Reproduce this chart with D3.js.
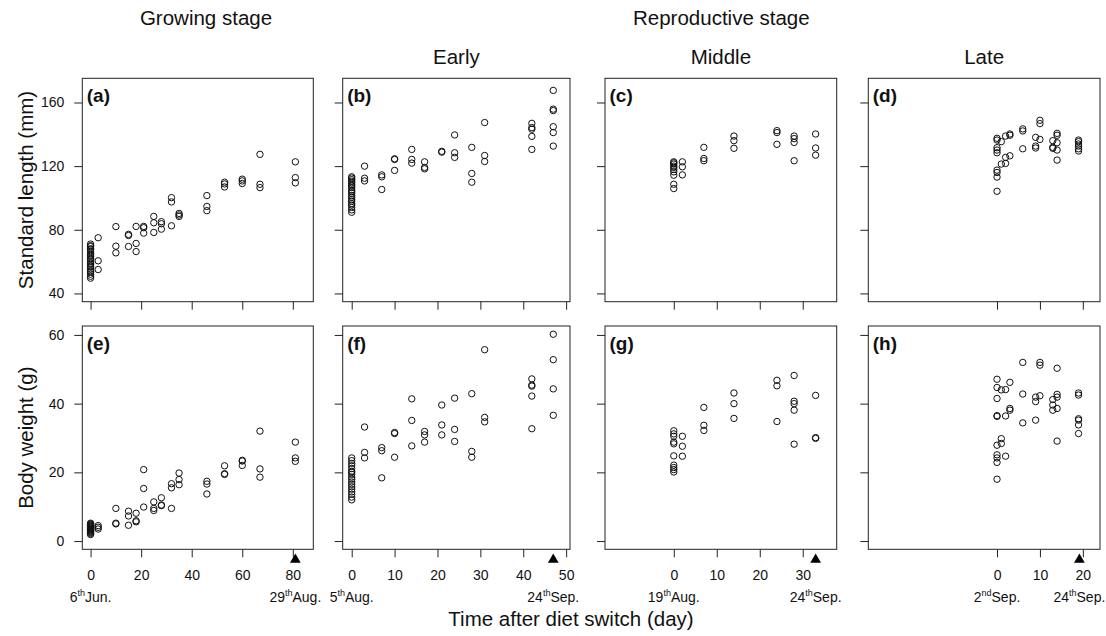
<!DOCTYPE html>
<html>
<head>
<meta charset="utf-8">
<script src="https://d3js.org/d3.v7.min.js"></script>
<style>
  body { margin: 0; background: #fff; }
  svg { display: block; font-family: "Liberation Sans", Arial, Helvetica, sans-serif; }
</style>
</head>
<body>
<svg id="chart"></svg>
<script>
var width = 1106, height = 636;

// ---- data ----
// Growing stage (a, e)
var growDays = [0, 3, 10, 15, 18, 21, 25, 28, 32, 35, 46, 53, 60, 67, 81];
var growLength = [
  [49.6, 50.8, 52.1, 53.4, 54.0, 55.2, 56.5, 57.1, 58.3, 59.0, 60.2, 61.4, 62.0, 63.3, 64.1, 65.0, 66.2, 67.5, 68.1, 69.4, 70.0, 71.0],
  [75.0, 60.5, 55.0],
  [82.0, 69.7, 65.5],
  [77.1, 76.4, 69.5],
  [82.1, 71.4, 66.3],
  [82.1, 81.3, 77.9],
  [88.4, 84.4, 78.3],
  [85.1, 83.8, 80.4],
  [100.2, 97.5, 82.5],
  [90.3, 89.3, 88.4],
  [101.5, 94.7, 92.0],
  [109.9, 108.8, 106.9],
  [111.8, 110.7, 109.1],
  [127.4, 108.6, 106.5],
  [122.7, 112.8, 109.5]
];
var growWeight = [
  [1.9, 2.2, 2.5, 2.7, 2.9, 3.1, 3.3, 3.4, 3.6, 3.8, 3.9, 4.1, 4.3, 4.4, 4.6, 4.8, 5.0, 5.2],
  [4.5, 4.0, 3.5],
  [9.5, 5.2, 5.0],
  [8.7, 7.3, 4.6],
  [8.1, 5.9, 5.6],
  [20.8, 15.3, 9.9],
  [11.4, 9.5, 8.9],
  [12.6, 10.5, 10.3],
  [16.7, 15.5, 9.5],
  [19.8, 17.9, 16.4],
  [17.4, 16.6, 13.7],
  [21.9, 19.6, 19.4],
  [23.5, 23.3, 22.0],
  [32.0, 21.0, 18.6],
  [28.8, 24.2, 23.2]
];

// Reproductive stage, early (b, f)
var earlyDays = [0, 3, 7, 10, 14, 17, 21, 24, 28, 31, 42, 47];
var earlyLength = [
  [91.0, 92.5, 94.0, 95.5, 96.5, 98.0, 99.0, 100.5, 101.5, 103.0, 104.0, 105.0, 106.5, 107.5, 108.5, 109.5, 110.5, 111.5, 112.5, 113.3],
  [120.0, 112.4, 110.7],
  [114.5, 113.3, 105.3],
  [124.6, 124.2, 117.3],
  [130.5, 124.2, 121.9],
  [122.7, 119.2, 118.3],
  [129.3, 128.8],
  [139.6, 128.4, 125.5],
  [131.8, 115.4, 109.9],
  [147.4, 126.7, 122.9],
  [146.9, 144.2, 143.2, 138.7, 130.5],
  [167.6, 155.8, 154.9, 144.8, 141.1, 132.6]
];
var earlyWeight = [
  [12.0, 12.8, 13.6, 14.3, 15.1, 15.8, 16.5, 17.2, 18.0, 18.6, 19.4, 20.0, 20.3, 21.1, 21.9, 22.6, 23.4, 24.2],
  [33.2, 25.8, 24.2],
  [27.2, 26.3, 18.4],
  [31.6, 31.3, 24.4],
  [41.4, 35.1, 27.7],
  [31.9, 30.9, 28.8],
  [39.6, 33.8, 30.9],
  [41.6, 32.5, 29.0],
  [42.9, 26.1, 24.4],
  [55.7, 36.0, 34.7],
  [47.2, 45.4, 45.1, 42.2, 32.7],
  [60.2, 52.8, 44.3, 36.6]
];

// Reproductive stage, middle (c, g)
var middleDays = [0, 2, 7, 14, 24, 28, 33];
var middleLength = [
  [122.7, 122.1, 121.3, 120.0, 119.2, 117.9, 116.4, 114.3, 108.6, 105.9],
  [122.7, 119.6, 114.5],
  [131.8, 124.8, 123.4],
  [138.9, 136.0, 131.2],
  [142.3, 141.1, 133.7],
  [138.9, 137.3, 134.9, 123.4],
  [140.2, 131.4, 126.9]
];
var middleWeight = [
  [32.1, 31.2, 30.5, 28.8, 28.3, 24.8, 22.1, 21.4, 20.8, 20.1],
  [30.5, 27.6, 24.7],
  [38.9, 33.7, 32.2],
  [43.1, 40.0, 35.7],
  [46.8, 45.2, 34.8],
  [48.2, 40.7, 40.0, 38.1, 28.2],
  [42.4, 30.1, 29.9]
];

// Reproductive stage, late (d, h)
var lateDays = [0, 1, 2, 3, 6, 9, 10, 13, 14, 19];
var lateLength = [
  [137.5, 136.4, 131.6, 130.1, 128.4, 117.5, 116.0, 113.1, 104.2],
  [135.4, 121.3],
  [138.9, 125.5, 121.7],
  [140.2, 139.4, 126.5],
  [143.4, 142.1, 130.9],
  [138.1, 132.6, 131.4],
  [148.8, 146.7, 136.8],
  [136.0, 131.8, 131.2],
  [140.6, 139.4, 134.7, 130.1, 123.8],
  [136.4, 135.4, 133.9, 132.6, 130.9, 129.5]
];
var lateWeight = [
  [47.1, 44.7, 41.5, 36.5, 36.3, 27.9, 25.1, 24.2, 22.9, 18.0],
  [44.0, 29.8, 28.4],
  [44.1, 36.4, 24.7],
  [46.2, 38.6, 38.1],
  [52.0, 42.8, 34.4],
  [41.9, 40.6, 35.2],
  [52.0, 51.2, 42.3],
  [41.2, 39.6, 38.1],
  [50.3, 42.7, 41.9, 38.6, 29.1],
  [43.1, 42.5, 35.6, 35.2, 33.8, 31.3]
];

// ticks and labels
var xTicks = [[0, 20, 40, 60, 80], [0, 10, 20, 30, 40, 50], [0, 10, 20, 30], [0, 10, 20]];
var lengthTicks = [40, 80, 120, 160];
var weightTicks = [0, 20, 40, 60];
var markerDays = [81, 47, 33, 19.2];   // filled triangles under the bottom axis
var startDates = [["6", "th", "Jun."], ["5", "th", "Aug."], ["19", "th", "Aug."], ["2", "nd", "Sep."]];
var endDates = [["29", "th", "Aug."], ["24", "th", "Sep."], ["24", "th", "Sep."], ["24", "th", "Sep."]];
var colTitles = ["", "Early", "Middle", "Late"];
var topLabels = ["(a)", "(b)", "(c)", "(d)"];
var bottomLabels = ["(e)", "(f)", "(g)", "(h)"];

// ---- layout ----
var boxLeft = [82.3, 342.7, 605, 868.3];
var boxRight = [313.3, 570, 836.7, 1100];
var rowTop = [78.3, 326];
var rowBottom = [301.7, 549.3];
var xDomains = [[-3.28, 88.1], [-2.1, 50.9], [-16, 37.9], [-30, 24]];
var yDomains = [[34.8, 175.2], [-2.4, 62.6]];
var tickLen = 8;

var svg = d3.select("#chart")
  .attr("width", width)
  .attr("height", height);

svg.append("rect").attr("width", width).attr("height", height).attr("fill", "#fff");

var columns = [
  { days: growDays, len: growLength, wt: growWeight },
  { days: earlyDays, len: earlyLength, wt: earlyWeight },
  { days: middleDays, len: middleLength, wt: middleWeight },
  { days: lateDays, len: lateLength, wt: lateWeight }
];

function flatten(days, groups) {
  var pts = [];
  groups.forEach(function (vals, i) {
    vals.forEach(function (v) { pts.push({ x: days[i], y: v }); });
  });
  return pts;
}

function addDate(g, x, parts) {
  var t = g.append("text")
    .attr("x", x)
    .attr("y", 602)
    .attr("text-anchor", "middle")
    .attr("font-size", 14)
    .attr("fill", "#111");
  t.append("tspan").text(parts[0]);
  t.append("tspan").attr("dy", -6).attr("font-size", 9).text(parts[1]);
  t.append("tspan").attr("dy", 6).text(parts[2]);
}

columns.forEach(function (col, c) {
  var x = d3.scaleLinear().domain(xDomains[c]).range([boxLeft[c], boxRight[c]]);

  [0, 1].forEach(function (r) {
    var y = d3.scaleLinear().domain(yDomains[r]).range([rowBottom[r], rowTop[r]]);
    var g = svg.append("g");
    var pts = flatten(col.days, r === 0 ? col.len : col.wt);

    // points
    g.selectAll("circle")
      .data(pts)
      .enter()
      .append("circle")
      .attr("cx", function (d) { return x(d.x); })
      .attr("cy", function (d) { return y(d.y); })
      .attr("r", 3.2)
      .attr("fill", "none")
      .attr("stroke", "#111")
      .attr("stroke-width", 1);

    // y axis (labels only in first column)
    var yAxis = d3.axisLeft(y)
      .tickValues(r === 0 ? lengthTicks : weightTicks)
      .tickSize(tickLen)
      .tickPadding(10)
      .tickFormat(c === 0 ? d3.format("d") : function () { return ""; });
    var ya = g.append("g")
      .attr("transform", "translate(" + boxLeft[c] + ",0)")
      .call(yAxis);

    // x axis (labels only in bottom row)
    var xAxis = d3.axisBottom(x)
      .tickValues(xTicks[c])
      .tickSize(tickLen)
      .tickPadding(12.5)
      .tickFormat(r === 1 ? d3.format("d") : function () { return ""; });
    var xa = g.append("g")
      .attr("transform", "translate(0," + rowBottom[r] + ")")
      .call(xAxis);

    [ya, xa].forEach(function (a) {
      a.select(".domain").remove();
      a.selectAll("line").attr("stroke", "#222");
      a.selectAll("text").attr("font-size", 14).attr("fill", "#111").attr("font-family", null);
    });

    // box
    g.append("rect")
      .attr("x", boxLeft[c])
      .attr("y", rowTop[r])
      .attr("width", boxRight[c] - boxLeft[c])
      .attr("height", rowBottom[r] - rowTop[r])
      .attr("fill", "none")
      .attr("stroke", "#222")
      .attr("stroke-width", 1);

    // panel letter
    g.append("text")
      .attr("x", boxLeft[c] + 4.5)
      .attr("y", rowTop[r] + 24)
      .attr("font-size", 19)
      .attr("font-weight", "bold")
      .attr("fill", "#111")
      .text(r === 0 ? topLabels[c] : bottomLabels[c]);

    if (r === 1) {
      // triangle marker under the axis
      g.append("path")
        .attr("d", d3.symbol().type(d3.symbolTriangle).size(50))
        .attr("transform", "translate(" + x(markerDays[c]) + "," + (rowBottom[r] + 10.3) + ")")
        .attr("fill", "#000");
      addDate(g, x(0), startDates[c]);
      addDate(g, x(markerDays[c]), endDates[c]);
    }
  });

  if (colTitles[c]) {
    svg.append("text")
      .attr("x", (boxLeft[c] + boxRight[c]) / 2)
      .attr("y", 64)
      .attr("text-anchor", "middle")
      .attr("font-size", 20.5)
      .attr("fill", "#111")
      .text(colTitles[c]);
  }
});

// stage titles
svg.append("text")
  .attr("x", 206).attr("y", 25)
  .attr("text-anchor", "middle").attr("font-size", 20.5).attr("fill", "#111")
  .text("Growing stage");
svg.append("text")
  .attr("x", (boxLeft[1] + boxRight[3]) / 2).attr("y", 25)
  .attr("text-anchor", "middle").attr("font-size", 20.5).attr("fill", "#111")
  .text("Reproductive stage");

// axis titles
svg.append("text")
  .attr("transform", "translate(33," + ((rowTop[0] + rowBottom[0]) / 2) + ") rotate(-90)")
  .attr("text-anchor", "middle").attr("font-size", 20.5).attr("fill", "#111")
  .text("Standard length (mm)");
svg.append("text")
  .attr("transform", "translate(33," + ((rowTop[1] + rowBottom[1]) / 2) + ") rotate(-90)")
  .attr("text-anchor", "middle").attr("font-size", 20.5).attr("fill", "#111")
  .text("Body weight (g)");
svg.append("text")
  .attr("x", 571).attr("y", 626)
  .attr("text-anchor", "middle").attr("font-size", 20.5).attr("fill", "#111")
  .text("Time after diet switch (day)");
</script>
</body>
</html>
